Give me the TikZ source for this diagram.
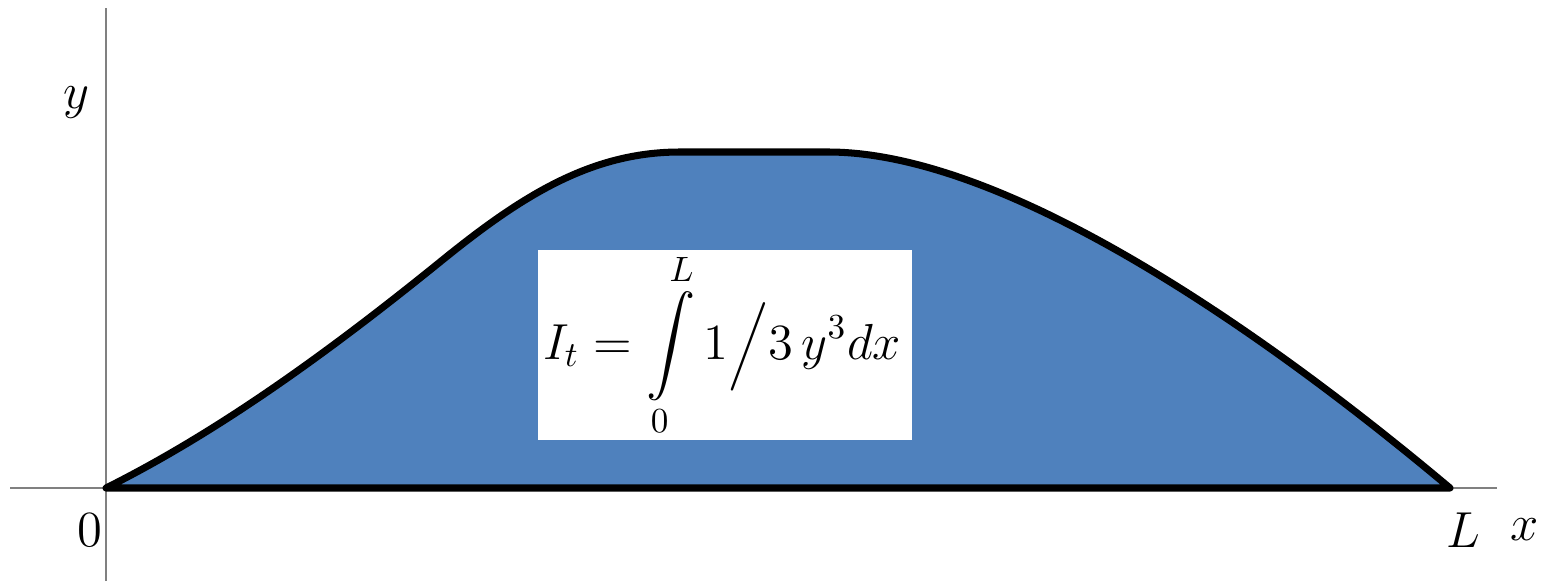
\documentclass[tikz,border=0pt]{standalone}
\usepackage{amsmath}
\usepackage{amssymb}
\usepackage{tikz}
\usetikzlibrary{calc}
\definecolor{blau}{HTML}{4F81BD}
\definecolor{grau}{HTML}{808080}
\tikzset{
  ax/.style={grau,line width=0.6pt},
  profil/.style={fill=blau,draw=black,line width=2pt,line join=round,line cap=round},
  kasten/.style={fill=white,draw=none},
  lab/.style={font=\fontsize{14}{16}\selectfont,inner sep=0pt},
}
\begin{document}
\begin{tikzpicture}[x=0.01cm,y=0.01cm]
  \useasboundingbox (0,0) rectangle (1554,581);
  % axes
  \coordinate (ylo) at (106,0);
  \coordinate (yhi) at (106,573);
  \coordinate (xlo) at (10,93);
  \coordinate (xhi) at (1497,93);
  \draw[ax] (ylo) -- (yhi);
  \draw[ax] (xlo) -- (xhi);
  % profile
  \coordinate (o) at (106,93);
  \coordinate (e) at (1450,93);
  \draw[profil] (o) .. controls (220,150) and (330,230) .. (440,319)
    .. controls (520,384) and (590,429) .. (680,429) -- (828,429)
    .. controls (1000,429) and (1250,261) .. (e) -- cycle;
  \fill[kasten] (538,141) rectangle (912,331);
  \node[font=\fontsize{14}{17}\selectfont] (formel) at (722,236)
    {$I_t = \displaystyle\int\limits_0^L 1\Big/3\,y^3dx$};
  \node[lab] (ly) at (76,478) {$y$};
  \node[lab] (lnull) at (90,51) {$0$};
  \node[lab] (lL) at (1463,51) {$L$};
  \node[lab] (lx) at (1525,51) {$x$};
\end{tikzpicture}
\end{document}
